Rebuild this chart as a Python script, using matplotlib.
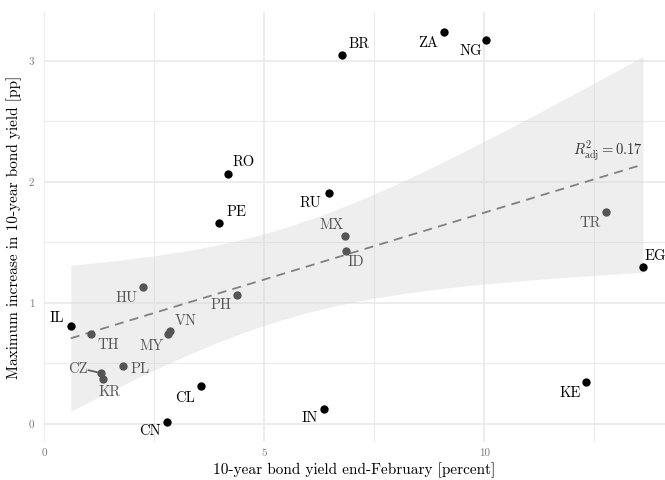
import numpy as np
import matplotlib
matplotlib.use("Agg")
import matplotlib.pyplot as plt

plt.rcParams['font.family'] = ['cmr10', 'DejaVu Serif']
plt.rcParams['mathtext.fontset'] = 'cm'
plt.rcParams['axes.unicode_minus'] = False

countries = ['IL', 'TH', 'CZ', 'KR', 'PL', 'HU', 'MY', 'VN', 'CN', 'CL', 'PE', 'RO',
             'PH', 'IN', 'RU', 'BR', 'MX', 'ID', 'ZA', 'NG', 'KE', 'TR', 'EG']
yield_feb = [0.61, 1.07, 1.30, 1.34, 1.80, 2.25, 2.82, 2.86, 2.80, 3.57, 3.98, 4.18,
             4.39, 6.36, 6.48, 6.77, 6.84, 6.86, 9.09, 10.05, 12.32, 12.77, 13.61]
max_increase = [0.81, 0.74, 0.42, 0.37, 0.48, 1.13, 0.74, 0.77, 0.02, 0.31, 1.66, 2.07,
                1.07, 0.12, 1.91, 3.05, 1.55, 1.43, 3.24, 3.17, 0.35, 1.75, 1.30]
grey_group = ['TH', 'CZ', 'KR', 'PL', 'HU', 'MY', 'VN', 'PH', 'MX', 'ID', 'TR']
r2_adj = 0.17

# label offsets in pixels (dx, dy)
offsets = {'IL': (-14, 8), 'TH': (17, -11), 'CZ': (-23, 4), 'KR': (7, -13),
           'PL': (17, -3), 'HU': (-17, -11), 'MY': (-16, -12), 'VN': (16, 10),
           'CN': (-17, -10), 'CL': (-16, -12), 'PE': (17, 11), 'RO': (16, 11),
           'PH': (-16, -11), 'IN': (-14, -9), 'RU': (-19, -10), 'BR': (17, 11),
           'MX': (-13, 11), 'ID': (10, -11), 'ZA': (-16, -11), 'NG': (-16, -11),
           'KE': (-16, -12), 'TR': (-16, -11), 'EG': (12, 11)}

x = np.array(yield_feb)
y = np.array(max_increase)
n = len(x)
slope, intercept = np.polyfit(x, y, 1)
resid = y - (intercept + slope * x)
s = np.sqrt(np.sum(resid ** 2) / (n - 2))
sxx = np.sum((x - x.mean()) ** 2)
xs = np.linspace(x.min(), x.max(), 200)
fit = intercept + slope * xs
se = s * np.sqrt(1 / n + (xs - x.mean()) ** 2 / sxx)
t = 2.080
lo, hi = fit - t * se, fit + t * se

fig = plt.figure(figsize=(6.65, 4.8), dpi=100)
ax = fig.add_axes([44 / 665, 38 / 480, 1 - 44 / 665, 430 / 480])

ax.set_xlim(0, 14.11)
ax.set_ylim(-0.149, 3.405)
ax.set_xticks([0, 5, 10])
ax.set_yticks([0, 1, 2, 3])
ax.set_xticks([2.5, 7.5, 12.5], minor=True)
ax.set_yticks([0.5, 1.5, 2.5], minor=True)
ax.grid(which='major', color='#ebebeb', linewidth=1.3, zorder=0)
ax.grid(which='minor', color='#ebebeb', linewidth=0.8, zorder=0)
ax.set_axisbelow(True)
for sp in ax.spines.values():
    sp.set_visible(False)
ax.tick_params(which='both', length=0, labelsize=8, labelcolor='#7a7a7a')
ax.tick_params(axis='x', pad=5)
ax.tick_params(axis='y', pad=7)

ax.fill_between(xs, lo, hi, color='#d6d6d6', alpha=0.4, linewidth=0, zorder=1)
ax.plot(xs, fit, color='#808080', linestyle=(0, (5, 3.5)), linewidth=1.3, zorder=2)

for c, xi, yi in zip(countries, x, y):
    col = '#555555' if c in grey_group else '#000000'
    ax.scatter(xi, yi, s=36, color=col, zorder=3, linewidths=0)
    dx, dy = offsets[c]
    ax.annotate(c, (xi, yi), xytext=(dx, dy), textcoords='offset pixels',
                ha='center', va='center', fontsize=10.5, color=col, zorder=4,
                annotation_clip=False)
    if c == 'CZ':
        ax.annotate('', (xi, yi), xytext=(dx + 10, dy - 1), textcoords='offset pixels',
                    arrowprops=dict(arrowstyle='-', color=col, lw=1.2, shrinkA=0, shrinkB=3))

ax.annotate(r'$R^2_{\mathrm{adj}} = %.2f$' % r2_adj, (xs[-1], fit[-1]), xytext=(0, 14),
            textcoords='offset pixels', ha='right', va='center', fontsize=10.5,
            color='#333333')

ax.set_xlabel('10-year bond yield end-February [percent]', fontsize=11, labelpad=3)
ax.set_ylabel('Maximum increase in 10-year bond yield [pp]', fontsize=11, labelpad=5)

fig.savefig('out.png', dpi=100)
